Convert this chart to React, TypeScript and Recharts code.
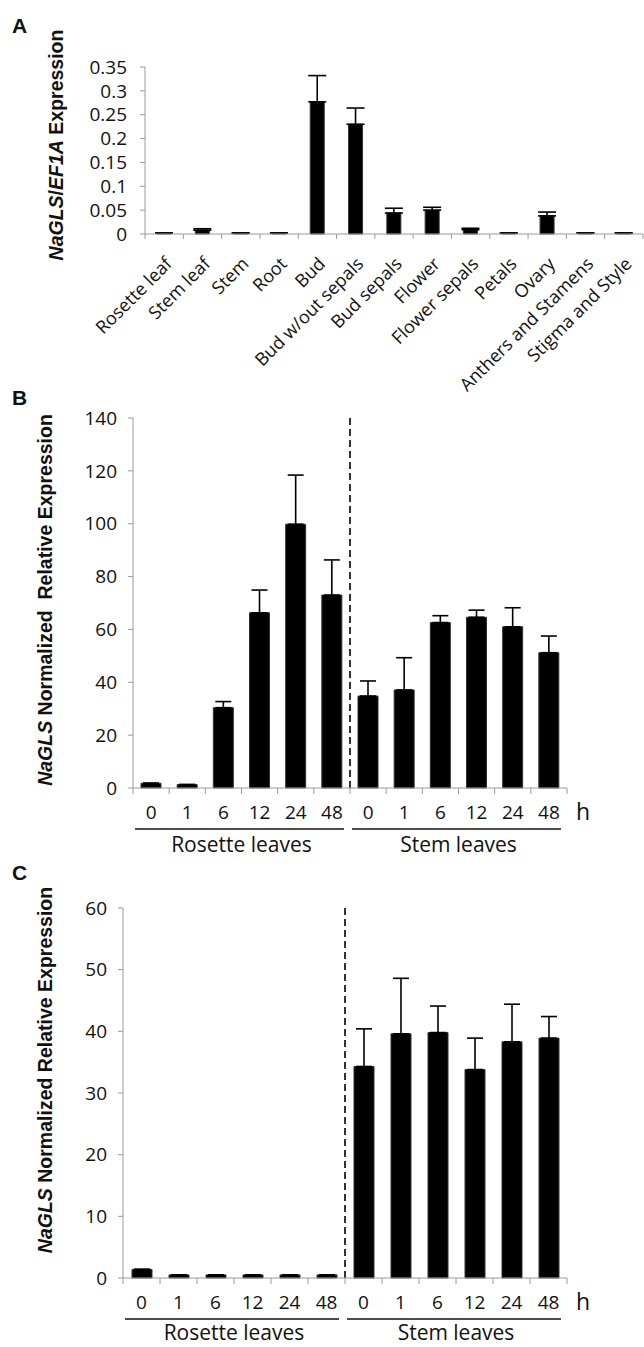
import React from 'react';
import { BarChart, Bar, XAxis, YAxis, ErrorBar, ReferenceLine } from 'recharts';

// Panel A: tissue expression
const tissues = [
  'Rosette leaf', 'Stem leaf', 'Stem', 'Root', 'Bud', 'Bud w/out sepals', 'Bud sepals',
  'Flower', 'Flower sepals', 'Petals', 'Ovary', 'Anthers and Stamens', 'Stigma and Style',
];
const tissueExpr = [0.002, 0.008, 0.002, 0.002, 0.277, 0.23, 0.044, 0.05, 0.009, 0.002, 0.038, 0.002, 0.002];
const tissueErr = [0, 0.003, 0, 0, 0.055, 0.034, 0.01, 0.006, 0.003, 0, 0.008, 0, 0];
const tissueTicks = [0, 0.05, 0.1, 0.15, 0.2, 0.25, 0.3, 0.35];

// Panels B and C: time course, rosette then stem leaves
const hours = ['0', '1', '6', '12', '24', '48'];
const leafGroups = ['Rosette leaves', 'Stem leaves'];

const panelBRosette = [1.8, 1.3, 30.4, 66.3, 99.8, 73];
const panelBRosetteErr = [0, 0, 2.3, 8.6, 18.6, 13.3];
const panelBStem = [34.8, 37.1, 62.6, 64.6, 61, 51.2];
const panelBStemErr = [5.7, 12.2, 2.6, 2.7, 7.2, 6.3];
const panelBTicks = [0, 20, 40, 60, 80, 100, 120, 140];

const panelCRosette = [1.4, 0.5, 0.5, 0.5, 0.5, 0.5];
const panelCRosetteErr = [0, 0, 0, 0, 0, 0];
const panelCStem = [34.3, 39.6, 39.8, 33.8, 38.3, 38.9];
const panelCStemErr = [6.1, 9, 4.3, 5.1, 6.1, 3.5];
const panelCTicks = [0, 10, 20, 30, 40, 50, 60];

const AXIS = '#9a9a9a';
const INK = '#111';
const FONT = '"Open Sans", "Liberation Sans", sans-serif';
const BOLD = '"Liberation Sans", Arial, sans-serif';

const tissueData = tissues.map((t, i) => ({ name: t, value: tissueExpr[i], err: [0, tissueErr[i]] }));

function timeData(rosette: number[], rosetteErr: number[], stem: number[], stemErr: number[]) {
  const rows: { key: string; value: number; err: number[] }[] = [];
  leafGroups.forEach((g, gi) => {
    const vals = gi === 0 ? rosette : stem;
    const errs = gi === 0 ? rosetteErr : stemErr;
    hours.forEach((h, i) => rows.push({ key: `${g} ${h}`, value: vals[i], err: [0, errs[i]] }));
  });
  return rows;
}

const panelBData = timeData(panelBRosette, panelBRosetteErr, panelBStem, panelBStemErr);
const panelCData = timeData(panelCRosette, panelCRosetteErr, panelCStem, panelCStemErr);

function TissueTick(props: any) {
  const { x, y, payload, index } = props;
  const bw = 498 / tissues.length;
  const ax = x + 9;
  const ay = y + 31;
  return (
    <g>
      <line x1={x - bw / 2} x2={x - bw / 2} y1={y} y2={y + 5} stroke={AXIS} />
      {index === tissues.length - 1 && <line x1={x + bw / 2} x2={x + bw / 2} y1={y} y2={y + 5} stroke={AXIS} />}
      <text x={ax} y={ay} transform={`rotate(-45 ${ax} ${ay})`} textAnchor="end" fontSize={18} fill={INK} fontFamily={FONT}>
        {payload.value}
      </text>
    </g>
  );
}

function makeHourTick(bw: number, labelDy: number) {
  return function HourTick(props: any) {
    const { x, y, index } = props;
    const n = hours.length;
    const total = n * leafGroups.length;
    const left = x - bw / 2;
    return (
      <g>
        <line x1={left} x2={left} y1={y} y2={y + 6} stroke={AXIS} />
        <text x={x} y={y + 31} textAnchor="middle" fontSize={19} fill={INK} fontFamily={FONT}>
          {hours[index % n]}
        </text>
        {index === total - 1 && (
          <g>
            <line x1={x + bw / 2} x2={x + bw / 2} y1={y} y2={y + 6} stroke={AXIS} />
            <text x={x + bw / 2 + 16} y={y + 32} textAnchor="middle" fontSize={23} fill={INK} fontFamily={FONT}>h</text>
          </g>
        )}
        {index % n === 0 && (
          <g>
            <line x1={left + 2} x2={left + n * bw - 6} y1={y + 41} y2={y + 41} stroke={INK} strokeWidth={1.5} />
            <text x={left + (n * bw) / 2} y={y + labelDy} textAnchor="middle" fontSize={21} fill={INK} fontFamily={FONT}>
              {leafGroups[Math.floor(index / n)]}
            </text>
          </g>
        )}
      </g>
    );
  };
}

function Title({ x, y, size, parts }: any) {
  return (
    <text
      transform={`translate(${x},${y}) rotate(-90)`}
      textAnchor="middle"
      dominantBaseline="central"
      fontSize={size}
      fontWeight={700}
      fill={INK}
      fontFamily={BOLD}
    >
      {parts.map((p: any, i: number) => (
        <tspan key={i} fontStyle={p.italic ? 'italic' : 'normal'}>{p.text}</tspan>
      ))}
    </text>
  );
}

const yTick = { fontSize: 19, fill: INK, fontFamily: FONT };

export default function App() {
  const tickB = makeHourTick(434 / 12, 64);
  const tickC = makeHourTick(444 / 12, 62);
  return (
    <div style={{ position: 'absolute', left: 0, top: 0, width: 644, height: 1347, background: '#fff', fontFamily: FONT }}>
      {/* A */}
      <div style={{ position: 'absolute', left: 0, top: 0 }}>
        <BarChart width={644} height={395} data={tissueData} margin={{ top: 67, right: 1, bottom: 0, left: 0 }} barSize={14}>
          <XAxis dataKey="name" interval={0} height={161} tickSize={0} tickMargin={0} tickLine={false} axisLine={{ stroke: AXIS }} tick={<TissueTick />} />
          <YAxis width={145} domain={[0, 0.35]} ticks={tissueTicks} interval={0} tickSize={5} tickMargin={13} tick={yTick} axisLine={{ stroke: AXIS }} tickLine={{ stroke: AXIS }} tickFormatter={(v: number) => String(v)} />
          <Bar dataKey="value" fill="#000" stroke="#333" strokeWidth={1} isAnimationActive={false}>
            <ErrorBar dataKey="err" direction="y" width={9} stroke="#000" strokeWidth={1.6} />
          </Bar>
        </BarChart>
      </div>

      {/* B */}
      <div style={{ position: 'absolute', left: 0, top: 380 }}>
        <BarChart width={644} height={490} data={panelBData} margin={{ top: 38, right: 77, bottom: 0, left: 0 }} barSize={20}>
          <XAxis dataKey="key" interval={0} height={82} tickSize={0} tickMargin={0} tickLine={false} axisLine={{ stroke: AXIS }} tick={tickB} />
          <YAxis width={133} domain={[0, 140]} ticks={panelBTicks} interval={0} tickSize={5} tickMargin={11} tick={yTick} axisLine={{ stroke: AXIS }} tickLine={{ stroke: AXIS }} />
          <ReferenceLine x={panelBData[hours.length].key} position="start" stroke="#000" strokeWidth={1.6} strokeDasharray="7 4" />
          <Bar dataKey="value" fill="#000" stroke="#333" strokeWidth={1} isAnimationActive={false}>
            <ErrorBar dataKey="err" direction="y" width={8} stroke="#000" strokeWidth={1.6} />
          </Bar>
        </BarChart>
      </div>

      {/* C */}
      <div style={{ position: 'absolute', left: 0, top: 870 }}>
        <BarChart width={644} height={477} data={panelCData} margin={{ top: 38, right: 77, bottom: 0, left: 0 }} barSize={20}>
          <XAxis dataKey="key" interval={0} height={69} tickSize={0} tickMargin={0} tickLine={false} axisLine={{ stroke: AXIS }} tick={tickC} />
          <YAxis width={123} domain={[0, 60]} ticks={panelCTicks} interval={0} tickSize={5} tickMargin={11} tick={yTick} axisLine={{ stroke: AXIS }} tickLine={{ stroke: AXIS }} />
          <ReferenceLine x={panelCData[hours.length].key} position="start" stroke="#000" strokeWidth={1.6} strokeDasharray="7 4" />
          <Bar dataKey="value" fill="#000" stroke="#333" strokeWidth={1} isAnimationActive={false}>
            <ErrorBar dataKey="err" direction="y" width={8} stroke="#000" strokeWidth={1.6} />
          </Bar>
        </BarChart>
      </div>

      {/* panel letters and axis titles */}
      <svg width={644} height={1347} style={{ position: 'absolute', left: 0, top: 0, pointerEvents: 'none' }}>
        <g fontSize={21} fontWeight={700} fill={INK} fontFamily={BOLD}>
          <text x={12} y={33}>A</text>
          <text x={12} y={405}>B</text>
          <text x={12} y={880}>C</text>
        </g>
        <Title x={56} y={145} size={19.5}
          parts={[{ text: 'NaGLS', italic: true }, { text: '/' }, { text: 'EF1A', italic: true }, { text: ' Expression' }]} />
        <Title x={45} y={600} size={19.5}
          parts={[{ text: 'NaGLS', italic: true }, { text: ' Normalized\u00a0\u00a0Relative Expression' }]} />
        <Title x={45} y={1070} size={19.5}
          parts={[{ text: 'NaGLS', italic: true }, { text: ' Normalized Relative Expression' }]} />
      </svg>
    </div>
  );
}
